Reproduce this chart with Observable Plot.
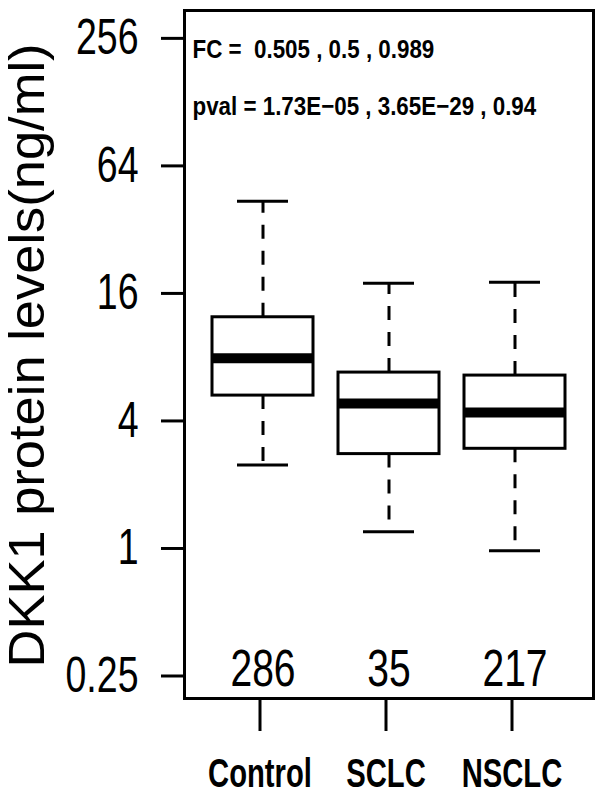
<!DOCTYPE html>
<html>
<head>
<meta charset="utf-8">
<script src="https://cdn.jsdelivr.net/npm/d3@7"></script>
<script src="https://cdn.jsdelivr.net/npm/@observablehq/plot@0.6"></script>
<style>
  body { margin: 0; background: white; }
  svg text { white-space: pre; }
</style>
</head>
<body>
<div id="chart"></div>
<script>
// ---- data ----
const categories = ["Control", "SCLC", "NSCLC"];
const counts = [286, 35, 217];
const lowerWhisker = [2.40, 1.16, 0.945];
const q1 = [5.10, 2.70, 2.86];
const medians = [7.66, 4.68, 4.24];
const q3 = [11.95, 6.55, 6.34];
const upperWhisker = [42.2, 17.3, 17.5];

const yTicks = [0.25, 1, 4, 16, 64, 256];
const yTickLabels = ["0.25", "1", "4", "16", "64", "256"];
const yTitle = "DKK1 protein levels(ng/ml)";
const fcValues = ["0.505", "0.5", "0.989"];
const pValues = ["1.73E\u221205", "3.65E\u221229", "0.94"];

const rows = categories.map((c, i) => ({
  cat: c, n: counts[i], lo: lowerWhisker[i], q1: q1[i], med: medians[i], q3: q3[i], hi: upperWhisker[i]
}));

// font stacks; the trailing "Nxx" tag says how much the text is condensed afterwards
const base = "'Liberation Sans Narrow', 'Liberation Sans', Arial, sans-serif";
const narrowTicks = base + ", N75";
const narrowNote = base + ", N86";
const narrowX = base + ", N73";
const regular = "'Liberation Sans', Arial, sans-serif, L624";

const fcLine = "FC =  " + fcValues.join(" , ");
const pLine = "pval = " + pValues.join(" , ");

const chart = Plot.plot({
  width: 600,
  height: 796,
  marginLeft: 184,
  marginRight: 7,
  marginTop: 10,
  marginBottom: 98,
  style: { background: "white", color: "black" },
  x: { type: "band", domain: categories, paddingInner: 0.2, paddingOuter: 0.22 },
  y: { type: "log", base: 2, domain: [Math.pow(2, -2.4), Math.pow(2, 8.39)] },
  marks: [
    Plot.ruleX(rows, { x: "cat", y1: "q3", y2: "hi", stroke: "black", strokeWidth: 3, strokeDasharray: "14,12" }),
    Plot.ruleX(rows, { x: "cat", y1: "q1", y2: "lo", stroke: "black", strokeWidth: 3, strokeDasharray: "14,12" }),
    Plot.tickY(rows, { x: "cat", y: "hi", stroke: "black", strokeWidth: 3, insetLeft: 25, insetRight: 25 }),
    Plot.tickY(rows, { x: "cat", y: "lo", stroke: "black", strokeWidth: 3, insetLeft: 25, insetRight: 25 }),
    Plot.barY(rows, { x: "cat", y1: "q1", y2: "q3", fill: "white", stroke: "black", strokeWidth: 3 }),
    Plot.tickY(rows, { x: "cat", y: "med", stroke: "black", strokeWidth: 10 }),
    Plot.text(rows, { x: "cat", text: d => String(d.n), frameAnchor: "bottom", lineAnchor: "bottom", dy: -13,
      fontSize: 52, fontFamily: narrowTicks, fill: "black" }),
    Plot.text([fcLine], { text: d => d, frameAnchor: "top-left", textAnchor: "start", lineAnchor: "bottom",
      dx: 8, dy: 47, fontSize: 26, fontWeight: "bold", fontFamily: narrowNote, fill: "black" }),
    Plot.text([pLine], { text: d => d, frameAnchor: "top-left", textAnchor: "start", lineAnchor: "bottom",
      dx: 8, dy: 104, fontSize: 26, fontWeight: "bold", fontFamily: narrowNote, fill: "black" }),
    Plot.axisY({ ticks: yTicks, tickFormat: d => yTickLabels[yTicks.indexOf(d)], tickSize: 23, tickPadding: 23,
      fontSize: 50, fontFamily: narrowTicks, strokeWidth: 3, dy: 3, label: null }),
    Plot.text([yTitle], { text: d => d, frameAnchor: "left", textAnchor: "middle", rotate: -90, lineAnchor: "bottom",
      dx: -141, dy: 1, fontSize: 50, fontFamily: regular, fill: "black" }),
    Plot.axisX({ tickSize: 33, tickPadding: 27, fontSize: 40, fontWeight: "bold", fontFamily: narrowX,
      strokeWidth: 3, dx: -3, label: null }),
    Plot.frame({ stroke: "black", strokeWidth: 3 })
  ]
});
document.getElementById("chart").appendChild(chart);

// condense (Nxx) or fit to a length (Lxxx) the tagged texts, since no narrow face is installed
chart.querySelectorAll("[font-family]").forEach(g => {
  const f = g.getAttribute("font-family");
  const n = /N(\d\d)$/.exec(f);
  const l = /L(\d+)$/.exec(f);
  if (!n && !l) return;
  const texts = g.tagName === "text" ? [g] : g.querySelectorAll("text");
  texts.forEach(t => {
    const w = t.getComputedTextLength();
    const target = n ? w * (+n[1] / 100) : +l[1];
    t.setAttribute("textLength", target.toFixed(2));
    t.setAttribute("lengthAdjust", "spacingAndGlyphs");
  });
});
</script>
</body>
</html>
